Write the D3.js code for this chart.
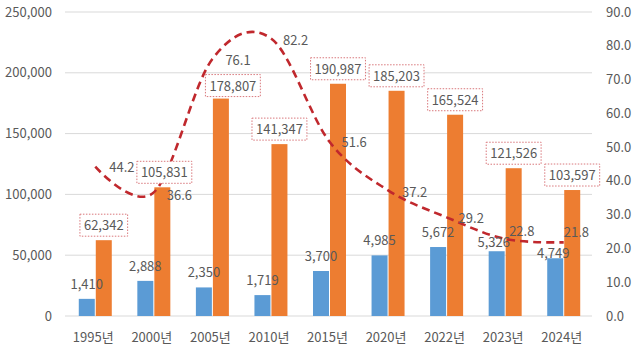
<!DOCTYPE html>
<html><head><meta charset="utf-8">
<script src="https://cdn.jsdelivr.net/npm/d3@7"></script>
<style>
html,body{margin:0;padding:0;background:#fff;}
svg text{font-family:"Noto Sans CJK KR","Noto Sans",sans-serif;fill:#595959;}
</style></head>
<body><svg id="c" width="640" height="360"></svg>
<script>
const categories = ["1995년","2000년","2005년","2010년","2015년","2020년","2022년","2023년","2024년"];
const blueValues = [1410, 2888, 2350, 1719, 3700, 4985, 5672, 5326, 4749];
const orangeValues = [62342, 105831, 178807, 141347, 190987, 185203, 165524, 121526, 103597];
const lineValues = [44.2, 36.6, 76.1, 82.2, 51.6, 37.2, 29.2, 22.8, 21.8];
const leftTicks = [0, 50000, 100000, 150000, 200000, 250000];
const rightTicks = [0, 10, 20, 30, 40, 50, 60, 70, 80, 90];
const blueScaleFactor = 10; // blue bars drawn at 10x on the left axis

// label nudges (layout only)
const lineLabelNudge = [[14,1],[13,3],[13,2],[12,2],[12,1],[14,2],[12,1],[4,-7],[0,-10]];
const blueLabelNudge = [[0,0],[0,0],[0,0],[0,0],[0,0],[0,0],[0,0],[-3,6],[-2,10]];
const orangeLabelNudge = [0,2,12,0,0,0,0,0,0];

const svg = d3.select("#c");
const L = 65, R = 592, T = 12, B = 316;
const x = d3.scaleBand().domain(categories).range([66, 593]).paddingInner(0).paddingOuter(0);
const yL = d3.scaleLinear().domain([0, 250000]).range([B, T]);
const yR = d3.scaleLinear().domain([0, 90]).range([B, T]);
const cx = c => x(c) + x.bandwidth()/2;

// gridlines
svg.append("g").selectAll("line").data(leftTicks).join("line")
  .attr("x1", L).attr("x2", R).attr("y1", d=>yL(d)).attr("y2", d=>yL(d))
  .attr("stroke", "#d9d9d9").attr("stroke-width", 1);

// left axis labels
const fmt = d3.format(",");
svg.append("g").selectAll("text").data(leftTicks).join("text")
  .attr("x", 52).attr("y", d=>yL(d)+4.5).attr("text-anchor","end")
  .attr("font-size", 13).text(d=>fmt(d));

// right axis labels
svg.append("g").selectAll("text").data(rightTicks).join("text")
  .attr("x", 606).attr("y", d=>yR(d)+4.5).attr("text-anchor","start")
  .attr("font-size", 13).text(d=>d3.format(".1f")(d));

// x labels
svg.append("g").selectAll("text").data(categories).join("text")
  .attr("x", d=>cx(d)-2).attr("y", 342).attr("text-anchor","middle")
  .attr("font-size", 13).text(d=>d);

const bw = 16;
// blue bars
svg.append("g").selectAll("rect").data(blueValues).join("rect")
  .attr("x", (d,i)=>cx(categories[i]) - bw - 0.5)
  .attr("y", d=>yL(d*blueScaleFactor)).attr("width", bw)
  .attr("height", d=>B - yL(d*blueScaleFactor)).attr("fill", "#5b9bd5");
// orange bars
svg.append("g").selectAll("rect").data(orangeValues).join("rect")
  .attr("x", (d,i)=>cx(categories[i]) + 0.5)
  .attr("y", d=>yL(d)).attr("width", bw)
  .attr("height", d=>B - yL(d)).attr("fill", "#ed7d31");

// line
const pts = lineValues.map((v,i)=>[cx(categories[i]), yR(v)]);
svg.append("path").attr("d", d3.line().curve(d3.curveCardinal.tension(0))(pts))
  .attr("fill","none").attr("stroke","#c0282d").attr("stroke-width",2.6)
  .attr("stroke-dasharray","8,5").attr("stroke-linecap","butt");

// blue labels
svg.append("g").selectAll("text").data(blueValues).join("text")
  .attr("x", (d,i)=>cx(categories[i]) - 8.5 + blueLabelNudge[i][0])
  .attr("y", (d,i)=>yL(d*blueScaleFactor) - 10 + blueLabelNudge[i][1])
  .attr("text-anchor","middle").attr("font-size",13).text(d=>fmt(d));

// orange labels with dotted boxes
const og = svg.append("g");
orangeValues.forEach((d,i)=>{
  const px = cx(categories[i]) + 8.5 + orangeLabelNudge[i];
  const bottom = yL(d) - 4 + (i===2 ? 2 : 0);
  const t = og.append("text").attr("x", px).attr("y", bottom - 6)
    .attr("text-anchor","middle").attr("font-size",13).text(fmt(d));
  const w = t.node().getComputedTextLength() + 8;
  og.insert("rect", "text").attr("x", px - w/2).attr("y", bottom - 22)
    .attr("width", w).attr("height", 22).attr("fill","#fff")
    .attr("stroke","#d9787c").attr("stroke-width",1).attr("stroke-dasharray","1.5,1.5");
});

// line labels
svg.append("g").selectAll("text").data(lineValues).join("text")
  .attr("x", (d,i)=>pts[i][0] + lineLabelNudge[i][0])
  .attr("y", (d,i)=>pts[i][1] + lineLabelNudge[i][1] + 4.5)
  .attr("text-anchor","start").attr("font-size",13).text(d=>d3.format(".1f")(d));
</script></body></html>
